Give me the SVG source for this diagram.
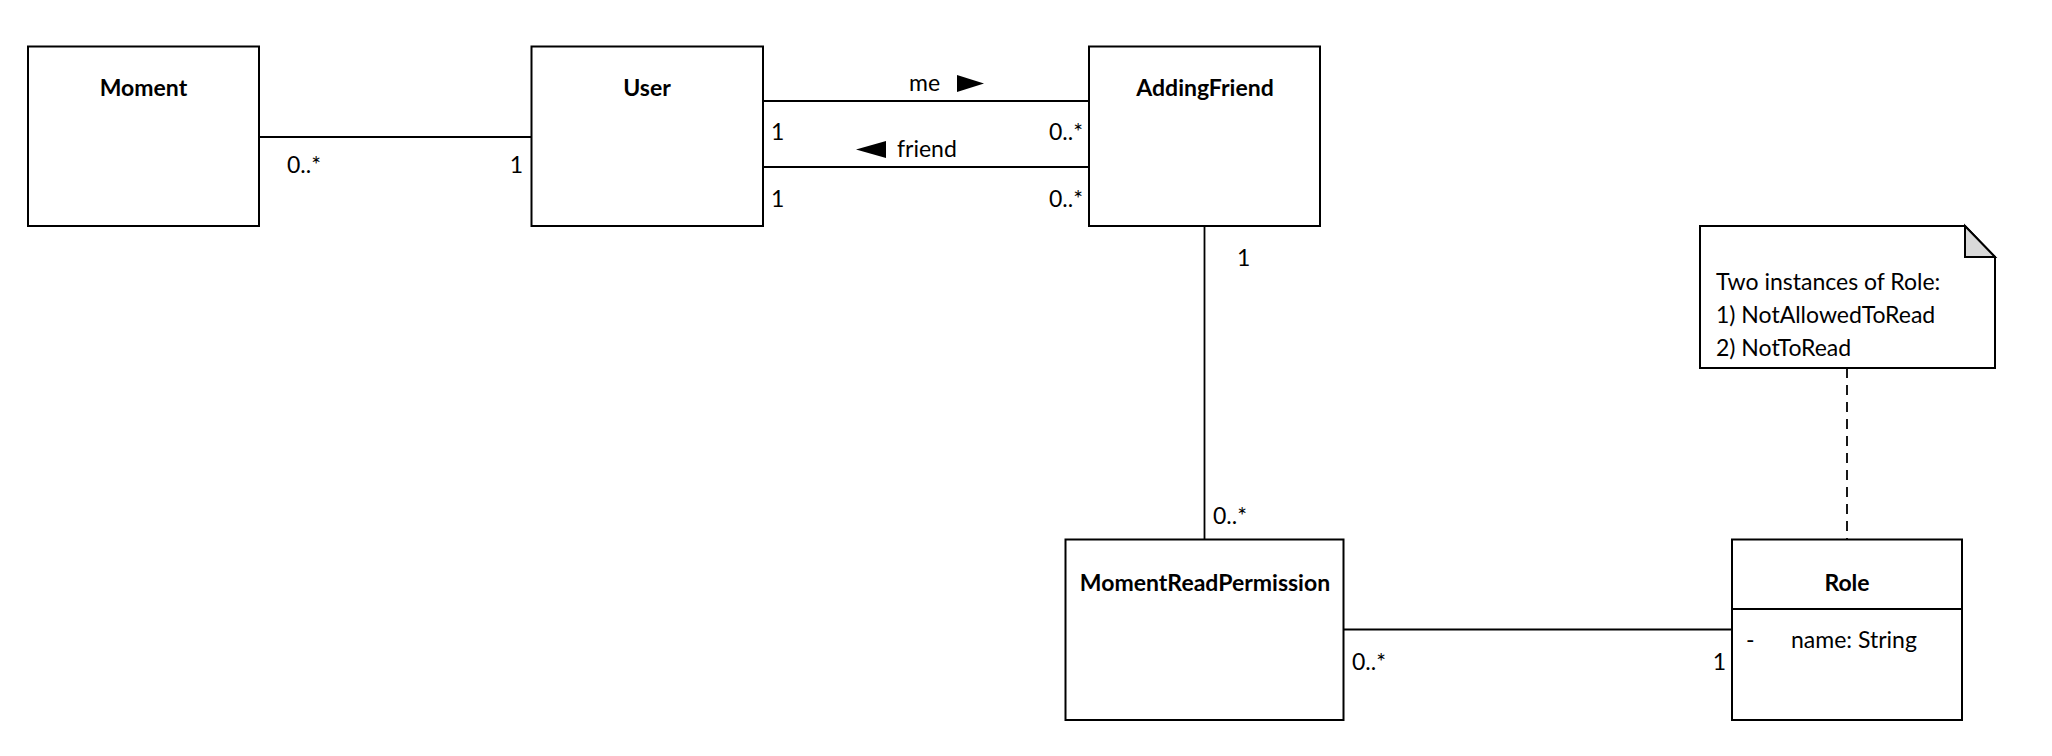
<svg xmlns="http://www.w3.org/2000/svg" width="2052" height="756" viewBox="0 0 2052 756">
<style>
.box{fill:#fff;stroke:#000;stroke-width:2}
.ln{fill:none;stroke:#000;stroke-width:1.8}
.dash{fill:none;stroke:#000;stroke-width:1.8;stroke-dasharray:10 7}
.t{font-family:Lato,"Liberation Sans",sans-serif;font-size:23px;fill:#000}
.b{font-weight:bold;text-anchor:middle}
.e{text-anchor:end}
</style>
<rect width="2052" height="756" fill="#fff"/>
<g id="connectors">
<line class="ln" x1="259" y1="137" x2="531" y2="137"/>
<line class="ln" x1="763" y1="101" x2="1089" y2="101"/>
<line class="ln" x1="763" y1="167" x2="1089" y2="167"/>
<line class="ln" x1="1204.5" y1="226" x2="1204.5" y2="539"/>
<line class="ln" x1="1343.5" y1="629.5" x2="1732" y2="629.5"/>
<line class="dash" x1="1847" y1="368" x2="1847" y2="539"/>
<text class="t" x="287" y="173">0..*</text>
<text class="t e" x="523" y="173">1</text>
<text class="t" x="771" y="140">1</text>
<text class="t" x="771" y="207">1</text>
<text class="t e" x="1083" y="140">0..*</text>
<text class="t e" x="1083" y="207">0..*</text>
<text class="t" x="909" y="91">me</text>
<polygon points="957,75 984,83.5 957,92" fill="#000"/>
<polygon points="886,141 856,149.5 886,158" fill="#000"/>
<text class="t" x="897" y="157">friend</text>
<text class="t" x="1237" y="266">1</text>
<text class="t" x="1213" y="524">0..*</text>
<text class="t" x="1352" y="670">0..*</text>
<text class="t e" x="1726" y="670">1</text>
</g>
<g id="Moment">
<rect class="box" x="28" y="46.5" width="231" height="179.5"/>
<text class="t b" x="143.5" y="96">Moment</text>
</g>
<g id="User">
<rect class="box" x="531.5" y="46.5" width="231.5" height="179.5"/>
<text class="t b" x="647" y="96">User</text>
</g>
<g id="AddingFriend">
<rect class="box" x="1089" y="46.5" width="231" height="179.5"/>
<text class="t b" x="1205" y="96">AddingFriend</text>
</g>
<g id="MomentReadPermission">
<rect class="box" x="1065.5" y="539.5" width="278" height="180.5"/>
<text class="t b" x="1205" y="591">MomentReadPermission</text>
</g>
<g id="Role">
<rect class="box" x="1732" y="539.5" width="230" height="180.5"/>
<line class="ln" x1="1732" y1="609" x2="1962" y2="609" style="stroke-width:2"/>
<text class="t b" x="1847" y="591">Role</text>
<text class="t" x="1746" y="648">-</text>
<text class="t" x="1791" y="648">name: String</text>
</g>
<g id="Note">
<polygon class="box" points="1700,226 1965,226 1995,257 1995,368 1700,368"/>
<polygon points="1965,226 1965,257 1995,257" fill="#d9d9d9" stroke="#000" stroke-width="2" stroke-linejoin="miter"/>
<text class="t" x="1716" y="290">Two instances of Role:</text>
<text class="t" x="1716" y="323">1) NotAllowedToRead</text>
<text class="t" x="1716" y="356">2) NotToRead</text>
</g>
</svg>
